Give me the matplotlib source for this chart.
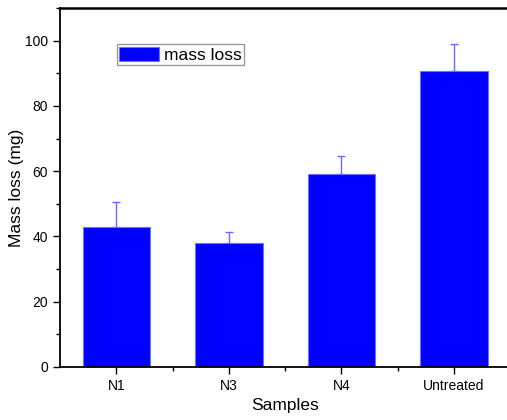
import matplotlib
matplotlib.use("Agg")
import matplotlib.pyplot as plt
import numpy as np
from matplotlib.ticker import MultipleLocator

plt.rcParams["font.family"] = ["Liberation Sans", "DejaVu Sans"]

samples = ["N1", "N3", "N4", "Untreated"]
mass_loss = [43.0, 38.0, 59.0, 90.8]
errors = [7.6, 3.4, 5.8, 8.1]

fig = plt.figure(figsize=(5.07, 4.2), dpi=100)
ax = fig.add_axes([60 / 507, 1 - 367 / 420, 450 / 507, 359 / 420])

x = np.arange(len(samples))
ax.bar(x, mass_loss, width=0.6, color="#0000ff", edgecolor="#7070ff",
       linewidth=0.8, label="mass loss", zorder=2)
# upper error bars only
ax.errorbar(x, mass_loss, yerr=[np.zeros(len(errors)), errors], fmt="none",
            ecolor="#6a6aff", elinewidth=1.0, capsize=3, capthick=1.0, zorder=1)

ax.set_xlim(-0.5, 3.5)
ax.set_ylim(0, 110)
ax.set_xticks(x)
ax.set_xticklabels(samples)
ax.set_xticks(x[:-1] + 0.5, minor=True)
ax.yaxis.set_major_locator(MultipleLocator(20))
ax.yaxis.set_minor_locator(MultipleLocator(10))
ax.tick_params(axis="both", which="major", direction="out", length=5,
               width=1, labelsize=10, colors="black")
ax.tick_params(axis="both", which="minor", direction="out", length=3, width=1)
ax.tick_params(axis="x", pad=4)

for s in ax.spines.values():
    s.set_linewidth(1.3)
ax.spines["right"].set_visible(False)
ax.spines["top"].set_linewidth(1.8)

ax.set_xlabel("Samples", fontsize=12.5, labelpad=3)
ax.set_ylabel("Mass loss (mg)", fontsize=12.5, labelpad=1)

leg = ax.legend(loc="upper left", bbox_to_anchor=(0.126, 0.9), borderaxespad=0,
                fontsize=12.5, frameon=True, fancybox=False, handlelength=2.3,
                handleheight=0.92, handletextpad=0.25, borderpad=0.15)
leg.get_frame().set_edgecolor("#808080")
leg.get_frame().set_linewidth(1.0)

fig.savefig("out.png", dpi=100)
